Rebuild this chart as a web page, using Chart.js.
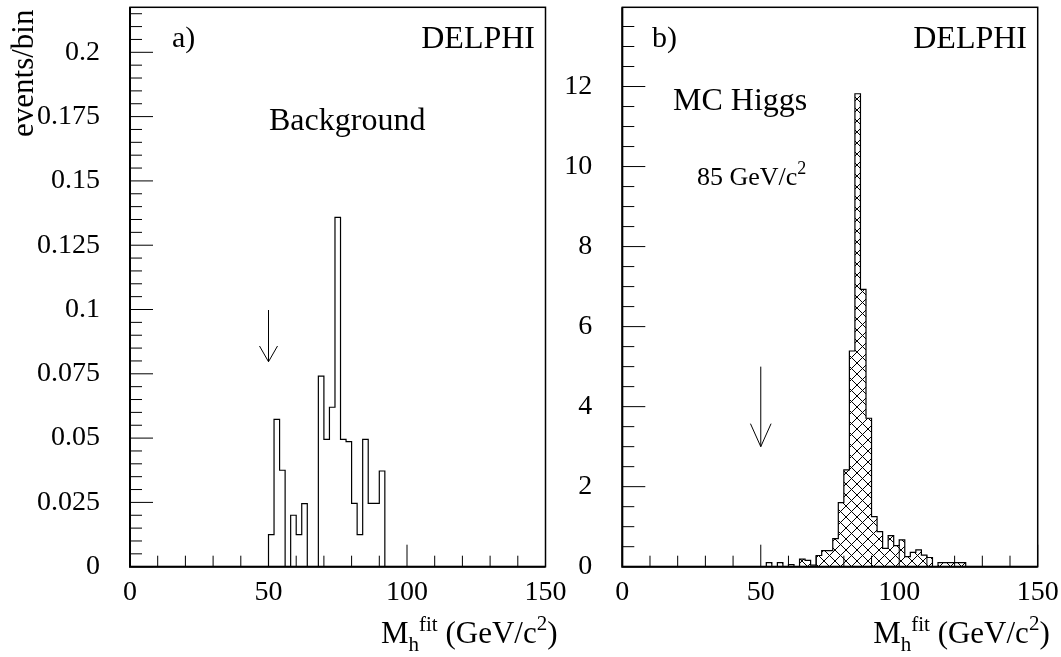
<!DOCTYPE html>
<html>
<head>
<meta charset="utf-8">
<title>DELPHI - M_h fit</title>
<script src="https://cdn.jsdelivr.net/npm/chart.js@4.4.1/dist/chart.umd.min.js"></script>
<style>
html, body { margin: 0; padding: 0; background: #fff; }
#wrap { position: relative; width: 1061px; height: 657px; overflow: hidden; }
#chartA { position: absolute; left: 0; top: 0; }
#chartB { position: absolute; left: 560px; top: 0; }
</style>
</head>
<body>
<div id="wrap">
    <canvas id="chartA" width="580" height="657"></canvas>
    <canvas id="chartB" width="501" height="657"></canvas>
</div>
<script>
// bin low edges in GeV/c^2, every bin is 2 GeV wide
const binWidth = 2;

// a) background
const bgBins = [50, 52, 54, 56, 58, 60, 62, 64, 66, 68, 70, 72, 74, 76, 78, 80, 82, 84, 86, 88, 90];
const bgEvents = [0.0125, 0.0573, 0.0375, 0, 0.02, 0.0125, 0.0245, 0, 0, 0.0741, 0.0495, 0.062,
    0.1358, 0.0495, 0.0486, 0.0246, 0.0125, 0.0495, 0.0246, 0.0246, 0.0372];

// b) MC Higgs 85 GeV/c^2
const higgsBins = [50, 52, 54, 56, 58, 60, 62, 64, 66, 68, 70, 72, 74, 76, 78, 80, 82, 84, 86, 88,
    90, 92, 94, 96, 98, 100, 102, 104, 106, 108, 110, 112, 114, 116, 118, 120, 122];
const higgsEvents = [0, 0.1, 0, 0.1, 0, 0.05, 0, 0.19, 0.16, 0.04, 0.28, 0.4, 0.4, 0.7, 1.6, 2.42,
    5.39, 11.82, 6.93, 3.71, 1.25, 0.875, 0.46, 0.775, 0.525, 0.67, 0.25, 0.36, 0.42, 0.29, 0.23,
    0, 0.1, 0.1, 0.1, 0.1, 0.1];

// tick labels
const xTicks = [0, 50, 100, 150];
const bgYTicks = [0, 0.025, 0.05, 0.075, 0.1, 0.125, 0.15, 0.175, 0.2];
const higgsYTicks = [0, 2, 4, 6, 8, 10, 12];

// cut arrows: [x, from y, to y]
const bgArrow = [50, 0.0998, 0.0797];
const higgsArrow = [50, 5.0, 3.0];

const SERIF = '"Liberation Serif", "DejaVu Serif", serif';
Chart.defaults.color = '#000';
Chart.defaults.font.family = SERIF;

// outline points for a stepped line
function stepPoints(bins, values) {
    const pts = [{ x: bins[0], y: 0 }];
    bins.forEach((b, i) => pts.push({ x: b, y: values[i] }));
    pts.push({ x: bins[bins.length - 1] + binWidth, y: 0 });
    return pts;
}

function hatchPattern() {
    const s = 11;
    const c = document.createElement('canvas');
    c.width = s; c.height = s;
    const g = c.getContext('2d');
    g.strokeStyle = '#000';
    g.lineWidth = 1;
    g.beginPath();
    for (const k of [-s, 0, s]) {
        g.moveTo(k, 0); g.lineTo(k + s, s);
        g.moveTo(k + s, 0); g.lineTo(k, s);
    }
    g.stroke();
    return g.createPattern(c, 'repeat');
}

// text made of pieces (sub/superscripts)
function drawRich(ctx, parts, x, y, align) {
    let w = 0;
    parts.forEach(p => { ctx.font = p.size + 'px ' + SERIF; w += ctx.measureText(p.t).width; });
    let cx = align === 'right' ? x - w : x;
    ctx.textAlign = 'left';
    ctx.textBaseline = 'alphabetic';
    parts.forEach(p => {
        ctx.font = p.size + 'px ' + SERIF;
        ctx.fillText(p.t, cx, y + (p.dy || 0));
        cx += ctx.measureText(p.t).width;
    });
}

const massTitle = [
    { t: 'M', size: 31 }, { t: 'h', size: 21, dy: 8 }, { t: 'fit', size: 21, dy: -12 },
    { t: ' (GeV/c', size: 31 }, { t: '2', size: 21, dy: -13 }, { t: ')', size: 31 }
];

const framePlugin = {
    id: 'frame',
    afterDraw(chart, args, o) {
        const { ctx, chartArea: a, scales: { x, y } } = chart;
        ctx.save();
        ctx.strokeStyle = '#000';
        ctx.fillStyle = '#000';

        // inward ticks, bottom and left only
        ctx.lineWidth = 1;
        ctx.beginPath();
        for (let i = 0; i * o.xMinor <= x.max + 1e-9; i++) {
            const px = x.getPixelForValue(i * o.xMinor);
            const len = i % o.xEvery === 0 ? 22 : 11;
            ctx.moveTo(px, a.bottom); ctx.lineTo(px, a.bottom - len);
        }
        for (let i = 0; i * o.yMinor <= y.max + 1e-9; i++) {
            const py = y.getPixelForValue(i * o.yMinor);
            const len = i % o.yEvery === 0 ? 23 : 12;
            ctx.moveTo(a.left, py); ctx.lineTo(a.left + len, py);
        }
        ctx.stroke();

        // box
        ctx.lineWidth = 1.5;
        ctx.strokeRect(a.left, a.top, a.right - a.left, a.bottom - a.top);
        ctx.lineWidth = 2;
        ctx.beginPath();
        ctx.moveTo(a.left, a.top); ctx.lineTo(a.left, a.bottom); ctx.lineTo(a.right, a.bottom);
        ctx.stroke();

        // cut arrow
        const ax = x.getPixelForValue(o.arrow[0]);
        const y0 = y.getPixelForValue(o.arrow[1]);
        const y1 = y.getPixelForValue(o.arrow[2]);
        ctx.lineWidth = 1;
        ctx.beginPath();
        ctx.moveTo(ax, y0); ctx.lineTo(ax, y1);
        ctx.moveTo(ax - o.head[1], y1 - o.head[0]); ctx.lineTo(ax, y1); ctx.lineTo(ax + o.head[1], y1 - o.head[0]);
        ctx.stroke();

        // texts
        o.texts.forEach(t => drawRich(ctx, t.parts, t.x, t.y, t.align));
        drawRich(ctx, massTitle, a.right + 12, 643, 'right');
        if (o.yTitle) {
            ctx.translate(33, 137);
            ctx.rotate(-Math.PI / 2);
            drawRich(ctx, [{ t: o.yTitle, size: 31 }], 0, 0, 'left');
        }
        ctx.restore();
    }
};

function fixedTicks(list) {
    return scale => { scale.ticks = list.map(v => ({ value: v })); };
}

function makeChart(id, opts) {
    return new Chart(document.getElementById(id), {
        type: 'line',
        data: {
            datasets: [{
                data: stepPoints(opts.bins, opts.values),
                stepped: true,
                borderColor: '#000',
                borderWidth: 1.2,
                pointRadius: 0,
                fill: opts.fill ? 'origin' : false,
                backgroundColor: opts.fill || 'transparent'
            }]
        },
        options: {
            responsive: false,
            animation: false,
            events: [],
            layout: { padding: { left: 0, top: 7.3, right: opts.padRight, bottom: 0 } },
            plugins: {
                legend: { display: false },
                tooltip: { enabled: false },
                frame: opts.frame
            },
            scales: {
                x: {
                    type: 'linear', min: 0, max: 150,
                    grid: { display: false, drawTicks: false },
                    border: { display: false },
                    afterBuildTicks: fixedTicks(xTicks),
                    ticks: { padding: 9, font: { size: 28 }, maxRotation: 0, autoSkip: false },
                    afterFit: s => { s.height = 90.3; s.paddingLeft = 0; s.paddingRight = 0; }
                },
                y: {
                    type: 'linear', min: 0, max: opts.yMax,
                    grid: { display: false, drawTicks: false },
                    border: { display: false },
                    afterBuildTicks: fixedTicks(opts.yTicks),
                    ticks: {
                        padding: 30, font: { size: 28 }, autoSkip: false,
                        callback: v => String(parseFloat(v.toFixed(4)))
                    },
                    afterFit: s => { s.width = opts.axisLeft; s.paddingTop = 0; s.paddingBottom = 0; }
                }
            }
        },
        plugins: [framePlugin]
    });
}

document.addEventListener('DOMContentLoaded', function () {
    // a) background
    makeChart('chartA', {
        bins: bgBins, values: bgEvents, yTicks: bgYTicks, yMax: 0.2175,
        axisLeft: 130, padRight: 34.5, fill: null,
        frame: {
            xMinor: 10, xEvery: 5, yMinor: 0.005, yEvery: 5,
            arrow: bgArrow, head: [15.7, 9],
            yTitle: 'events/bin',
            texts: [
                { parts: [{ t: 'a)', size: 30 }], x: 172, y: 47 },
                { parts: [{ t: 'DELPHI', size: 32 }], x: 535, y: 48, align: 'right' },
                { parts: [{ t: 'Background', size: 32 }], x: 269, y: 130 }
            ]
        }
    });

    // b) MC Higgs
    makeChart('chartB', {
        bins: higgsBins, values: higgsEvents, yTicks: higgsYTicks, yMax: 13.98,
        axisLeft: 62.3, padRight: 23.3, fill: hatchPattern(),
        frame: {
            xMinor: 10, xEvery: 5, yMinor: 0.5, yEvery: 4,
            arrow: higgsArrow, head: [23, 10.3],
            texts: [
                { parts: [{ t: 'b)', size: 30 }], x: 92, y: 47 },
                { parts: [{ t: 'DELPHI', size: 32 }], x: 467, y: 48, align: 'right' },
                { parts: [{ t: 'MC Higgs', size: 32 }], x: 113, y: 110 },
                { parts: [{ t: '85 GeV/c', size: 26 }, { t: '2', size: 18, dy: -11 }], x: 137, y: 185 }
            ]
        }
    });
});
</script>
</body>
</html>
